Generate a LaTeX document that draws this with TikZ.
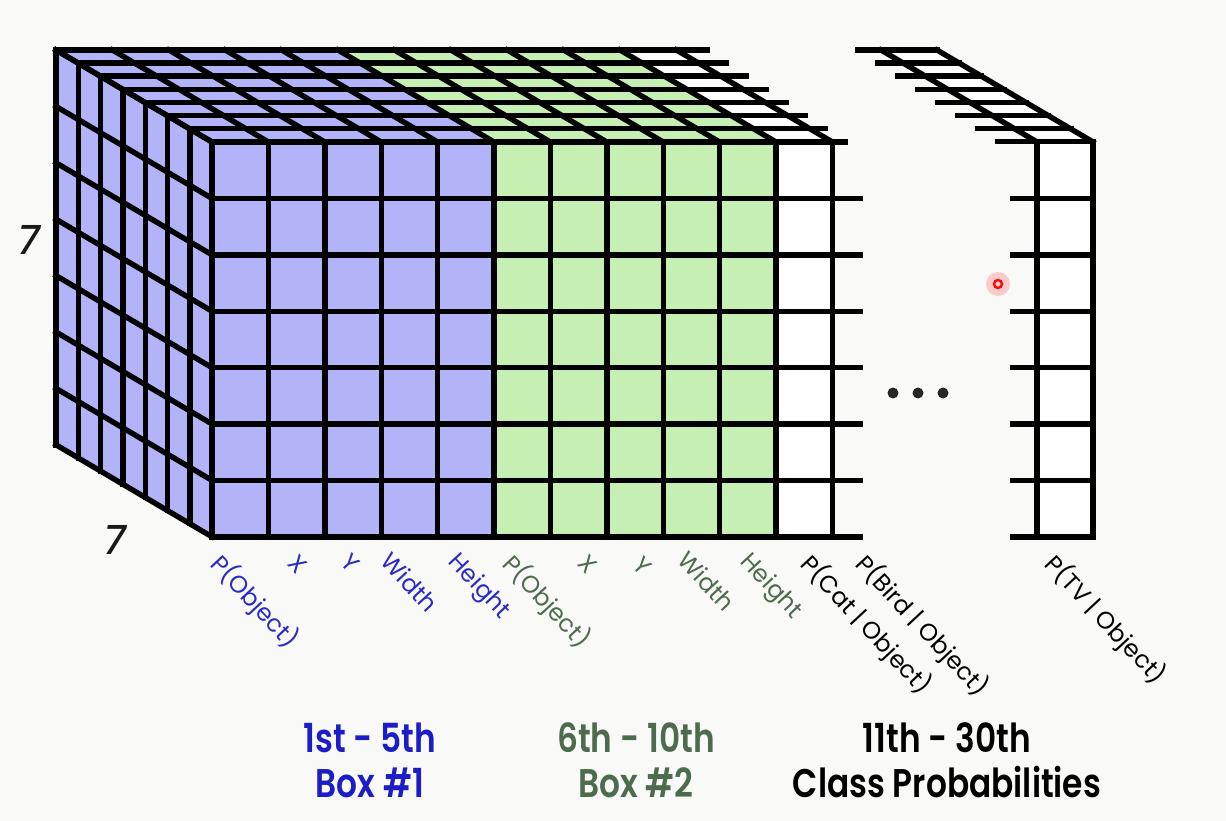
\documentclass[tikz,border=0pt]{standalone}
\usepackage{fontspec}
\setmainfont{Poppins}
\newfontfamily\capfont[FakeStretch=0.82]{Poppins SemiBold}
\newfontfamily\dimfont[FakeSlant=0.18]{Poppins Medium}
\usetikzlibrary{calc}
\definecolor{paper}{HTML}{F9F9F7}
\definecolor{cellblue}{HTML}{B3B3FA}
\definecolor{cellgreen}{HTML}{C6F0B3}
\definecolor{inkblue}{HTML}{2A2AC4}
\definecolor{inkgreen}{HTML}{4D6B4D}
\definecolor{headblue}{HTML}{1C1CC8}
\definecolor{laser}{HTML}{F01010}

\begin{document}
\begin{tikzpicture}[x=1pt,y=-1pt,
  grid/.style={line width=5.4pt,line cap=rect,line join=miter},
  lab/.style={rotate=-47,anchor=north west,inner sep=0pt,font=\fontsize{24}{24}\selectfont},
  grouptext/.style={font=\capfont\fontsize{40}{40}\selectfont,inner sep=0pt,anchor=base},
  dim/.style={font=\dimfont\fontsize{40}{40}\selectfont,text=black!90},
]
\def\cw{56.4}
\def\dx{22.3}
\def\dy{13.1}
\fill[paper] (0,0) rectangle (1226,821);
\useasboundingbox (0,0) rectangle (1226,821);
% cell colours
\fill[cellblue] (56,50) -- (212,142) -- (212,537) -- (56,445) -- cycle;
\fill[cellblue] (212,142) rectangle (494,537);
\fill[cellgreen] (494,142) rectangle (776,537);
\fill[white] (776,142) rectangle (832,537);
\fill[cellblue] (56,50) -- (338,50) -- (494,142) -- (212,142) -- cycle;
\fill[cellgreen] (338,50) -- (620,50) -- (776,142) -- (494,142) -- cycle;
\fill[white] (620,50) -- (676,50) -- (832,142) -- (776,142) -- cycle;
\fill[white] (1037,142) rectangle (1093,537);
\fill[white] (881,50) -- (937,50) -- (1093,142) -- (1037,142) -- cycle;
\begin{scope}[grid]
  % left face
  \foreach \k in {0,...,7}
    \draw ({56+\dx*\k},{50+\dy*\k}) -- ++(0,{7*\cw});
  \foreach \r in {0,...,7}
    \draw (56,{50+\cw*\r}) -- (212,{142+\cw*\r});
  % top face
  \foreach \k in {0,...,6}
    \draw ({56+\dx*\k},{50+\dy*\k}) -- ({707+19.7*\k},{50+\dy*\k});
  \foreach \col in {0,...,11}
    \draw ({56+\cw*\col},50) -- ({212+\cw*\col},142);
  % front face
  \foreach \col in {0,...,11}
    \draw ({212+\cw*\col},142) -- ++(0,{7*\cw});
  \draw (212,142) -- (845,142);
  \foreach \r in {1,...,7}
    \draw (212,{142+\cw*\r}) -- (860,{142+\cw*\r});
  % last channel
  \foreach \k in {0,...,7}
    \draw ({858+20*\k},{50+\dy*\k}) -- ({937+\dx*\k},{50+\dy*\k});
  \draw (881,50) -- (1037,142);
  \draw (937,50) -- (1093,142);
  \draw (1037,142) -- ++(0,{7*\cw});
  \draw (1093,142) -- ++(0,{7*\cw});
  \foreach \r in {1,...,7}
    \draw (1013,{142+\cw*\r}) -- (1093,{142+\cw*\r});
\end{scope}
\foreach \px in {893,918,943}
  \fill[black!85] (\px,393) circle (5.5pt);
\fill[laser!22] (998,284) circle (12pt);
\draw[laser,line width=2.5pt] (998,284) circle (4pt);
% sizes
\node[dim] (rows) at (27,240) {7};
\node[dim] (depth) at (113,540) {7};
% channel labels
\node[lab,text=inkblue] (bxa) at (226,550) {P(Object)};
\node[lab,text=inkblue] (bxb) at (299,553) {X};
\node[lab,text=inkblue] (bxc) at (352,552) {Y};
\node[lab,text=inkblue] (bxd) at (393,550) {Width};
\node[lab,text=inkblue] (bxe) at (461,550) {Height};
\node[lab,text=inkgreen] (bya) at (518,550) {P(Object)};
\node[lab,text=inkgreen] (byb) at (589,553) {X};
\node[lab,text=inkgreen] (byc) at (644,555) {Y};
\node[lab,text=inkgreen] (byd) at (690,549) {Width};
\node[lab,text=inkgreen] (bye) at (753,550) {Height};
\node[lab] (pcat) at (816,550) {P(Cat | Object)};
\node[lab] (pbird) at (871,550) {P(Bird | Object)};
\node[lab] (ptv) at (1060,550) {P(TV | Object)};
% groups
\node[grouptext,text=headblue] (gaa) at (370,752) {1st - 5th};
\node[grouptext,text=headblue] (gab) at (370,797) {Box \#1};
\node[grouptext,text=inkgreen] (gba) at (636,752) {6th - 10th};
\node[grouptext,text=inkgreen] (gbb) at (636,797) {Box \#2};
\node[grouptext] (gca) at (947,752) {11th - 30th};
\node[grouptext] (gcb) at (947,797) {Class Probabilities};
\end{tikzpicture}
\end{document}
